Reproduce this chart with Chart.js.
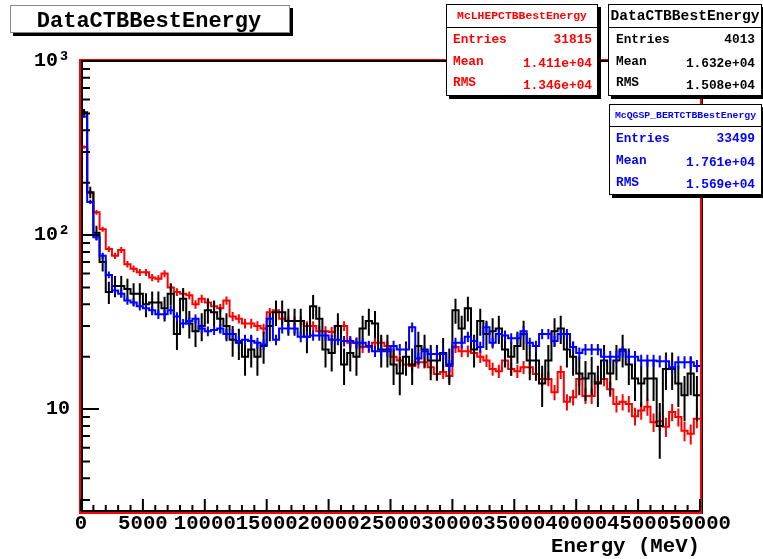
<!DOCTYPE html>
<html>
<head>
<meta charset="utf-8">
<script src="https://cdn.jsdelivr.net/npm/chart.js@4/dist/chart.umd.min.js"></script>
<style>
  html, body { margin: 0; padding: 0; background: #ffffff; }
  canvas { display: block; }
</style>
</head>
<body>
<canvas id="c" width="763" height="559"></canvas>
<script>
// Histogram binning: 100 bins of 500 MeV from 0 to 50000 MeV
const binWidth = 500;
const energyMin = 0;
const energyMax = 50000;

// Bin contents, data (black)
const dataCounts = [
  508,176,103,70,47,51,51,49,46,46,
  40,41,41,38,46,27,43,31,28,30,
  37,36,33,30,25,24,20,22,20,23,
  30,36,36,32,32,32,26,39,33,22,
  21,30,18,21,20,29,32,31,22,22,
  18,16,20,18,23,22,19,19,21,18,
  37,29,38,22,32,27,28,29,22,20,
  23,27,19,19,14,19,28,29,22,20,
  16,15,16,14,19,16,19,22,18,15,
  14,15,15,8,17,17,14,12,16,12
];

// Bin contents, LHEP simulation normalised to data (red)
const lhepCounts = [
  320,175,135,108,83,76,82,68,64,61,
  61,57,56,60,50,47,46,45,40,43,
  41,39,38,42,34,33,31,31,30,29,
  36,37,33,32,32,32,30,30,28,28,
  27.7,30,30,24,24,22.7,22.7,24,24,23,
  20,19,18,17.7,18.6,18.6,17.4,15.9,16.3,15.5,
  22.7,21.5,21.5,21,20,19,17,16.5,19,17,
  16.5,17.4,17.4,15.9,14.9,14.9,12.5,16.3,11,11.7,
  14.9,11.9,11.9,14.3,14.9,13,10.7,11,10.7,9.1,
  9.8,10.3,8.4,8.5,7.9,9.6,9.0,7.5,7.2,8.8
];

// Bin contents, QGSP_BERT simulation normalised to data (blue)
const qgspCounts = [
  480,155,97,76,59,48,46,42,41,39,
  38,37,35,35,37,34,31,32,33,29,
  28,28.5,29,27,27,24.6,25,24.6,24,23.5,
  33,25,29,29,29,26,26,26.5,26.5,26.5,
  25,25,24.6,24.6,24,24,23,21.5,21.5,21.5,
  23,22,22,29.5,19.5,21.5,20.7,20.7,20.7,17.7,
  24,24,26,24.6,22.7,29.5,24,27,26.5,25.5,
  25.5,28,24,23,27,27,24.6,27,27,22.7,
  21,22,22,22,20,20,20,21.5,20,20,
  19,19,19,18.8,18.8,17.4,18.6,18.6,18.6,17.7
];

// Axis ticks and labels
const xTickValues = [0,5000,10000,15000,20000,25000,30000,35000,40000,45000,50000];
const yTickValues = [10,100,1000];
const yTickLabels = ['10','10\u00B2','10\u00B3'];
const yMin = 2.56;
const yMax = 1000;

// Statistics boxes
const statNames = ['Entries','Mean','RMS'];
const lhepStats = ['31815','1.411e+04','1.346e+04'];
const dataStats = ['4013','1.632e+04','1.508e+04'];
const qgspStats = ['33499','1.761e+04','1.569e+04'];
const lhepEntries = 31815;
const dataEntries = 4013;
const qgspEntries = 33499;

const MONO = '"Liberation Mono", "DejaVu Sans Mono", monospace';
const boldMono = px => `bold ${px}px ${MONO}`;

// Step outline: one point per lower bin edge plus the closing upper edge
function stepPoints(counts) {
  const pts = counts.map((v, i) => ({ x: energyMin + i * binWidth, y: v }));
  pts.push({ x: energyMin + counts.length * binWidth, y: counts[counts.length - 1] });
  return pts;
}

// Poisson errors; simulated histograms are scaled to the data entries
const poissonErrors = counts => counts.map(v => Math.sqrt(v));
const scaledErrors = (counts, entries) => counts.map(v => Math.sqrt(v * dataEntries / entries));

const histStyle = {
  id: 'histStyle',
  afterDatasetDraw(chart, args) {
    const ds = chart.data.datasets[args.index];
    if (!ds.errors) return;
    const { ctx, chartArea: a, scales: { x, y } } = chart;
    ctx.save();
    ctx.beginPath();
    ctx.rect(a.left, a.top, a.right - a.left, a.bottom - a.top);
    ctx.clip();
    ctx.strokeStyle = ds.borderColor;
    ctx.lineWidth = 2;
    ctx.beginPath();
    ds.counts.forEach((v, i) => {
      const px = x.getPixelForValue(energyMin + (i + 0.5) * binWidth);
      const hi = v + ds.errors[i];
      const lo = Math.max(v - ds.errors[i], y.min);
      ctx.moveTo(px, y.getPixelForValue(hi));
      ctx.lineTo(px, y.getPixelForValue(lo));
    });
    ctx.stroke();
    ctx.restore();
  },
  afterDraw(chart) {
    const { ctx, chartArea: a, scales: { x, y } } = chart;
    ctx.save();

    // frame
    ctx.strokeStyle = '#ff0000';
    ctx.lineWidth = 2;
    ctx.strokeRect(a.left - 1, a.top - 1, a.right - a.left + 2, a.bottom - a.top + 2);
    ctx.strokeStyle = '#000000';
    ctx.lineWidth = 1;
    ctx.beginPath();
    ctx.moveTo(a.right + 2.5, a.top); ctx.lineTo(a.right + 2.5, a.bottom + 2);
    ctx.stroke();
    ctx.lineWidth = 2;
    ctx.beginPath();
    ctx.moveTo(a.left + 1, a.top - 1); ctx.lineTo(a.left + 1, a.bottom - 1);
    ctx.lineTo(a.right, a.bottom - 1);
    ctx.moveTo(a.left, a.top); ctx.lineTo(a.right, a.top);
    ctx.stroke();

    // inward ticks, x axis
    ctx.beginPath();
    for (let v = energyMin; v <= energyMax; v += 1000) {
      const px = x.getPixelForValue(v);
      const len = v % 5000 === 0 ? 12 : 6;
      ctx.moveTo(px, a.bottom - 1);
      ctx.lineTo(px, a.bottom - 1 - len);
    }
    // inward ticks, log y axis
    for (let d = 1; d <= 1000; d *= 10) {
      for (let k = 1; k <= 9; k++) {
        const v = k * d;
        if (v < y.min || v > y.max) continue;
        const py = y.getPixelForValue(v);
        const len = k === 1 ? 18 : 9;
        ctx.moveTo(a.left, py);
        ctx.lineTo(a.left + len, py);
      }
    }
    ctx.stroke();

    // title box
    drawBox(ctx, 10, 5, 280, 28, '#888888');
    ctx.fillStyle = '#000000';
    ctx.font = boldMono(22);
    ctx.textAlign = 'center';
    ctx.textBaseline = 'middle';
    ctx.fillText('DataCTBBestEnergy', 149, 21);

    // statistics boxes
    statsBox(ctx, { x: 446, y: 4, w: 152, h: 92, line: 27, title: 'McLHEPCTBBestEnergy', titleSize: 11.4,
      color: '#ff0000', labelX: 453, valueX: 592, stats: lhepStats, rowY: [40, 61.5, 83], valY: [40, 63.5, 86] });
    statsBox(ctx, { x: 608, y: 4, w: 154, h: 92, line: 27, title: 'DataCTBBestEnergy', titleSize: 14.6,
      color: '#000000', labelX: 616, valueX: 755, stats: dataStats, rowY: [40, 61.5, 83], valY: [40, 63.5, 86] });
    statsBox(ctx, { x: 609, y: 104, w: 153, h: 91, line: 126, title: 'McQGSP_BERTCTBBestEnergy', titleSize: 9.8,
      color: '#0000ff', labelX: 616, valueX: 755, stats: qgspStats, rowY: [139, 160.5, 182.5], valY: [139, 162.5, 185] });

    ctx.restore();
  }
};

function drawBox(ctx, bx, by, bw, bh, edge) {
  ctx.fillStyle = '#000000';
  ctx.fillRect(bx + 3, by + bh, bw, 3);
  ctx.fillRect(bx + bw, by + 3, 3, bh);
  ctx.fillStyle = '#ffffff';
  ctx.fillRect(bx, by, bw, bh);
  ctx.strokeStyle = edge;
  ctx.lineWidth = 1;
  ctx.strokeRect(bx + 0.5, by + 0.5, bw - 1, bh - 1);
}

function statsBox(ctx, o) {
  drawBox(ctx, o.x, o.y, o.w, o.h, '#000000');
  ctx.strokeStyle = '#000000';
  ctx.lineWidth = 1;
  ctx.beginPath();
  ctx.moveTo(o.x, o.line + 0.5);
  ctx.lineTo(o.x + o.w, o.line + 0.5);
  ctx.stroke();
  ctx.fillStyle = o.color;
  ctx.textBaseline = 'middle';
  ctx.textAlign = 'center';
  ctx.font = boldMono(o.titleSize);
  ctx.fillText(o.title, o.x + o.w / 2, (o.y + o.line) / 2 + 1);
  ctx.font = boldMono(12.8);
  statNames.forEach((name, i) => {
    ctx.textAlign = 'left';
    ctx.fillText(name, o.labelX, o.rowY[i]);
    ctx.textAlign = 'right';
    ctx.fillText(o.stats[i], o.valueX, o.valY[i]);
  });
}

const lineDataset = (label, counts, color, errors) => ({
  label,
  data: stepPoints(counts),
  counts,
  errors,
  borderColor: color,
  borderWidth: 2,
  pointRadius: 0,
  stepped: true,
  fill: false,
  tension: 0
});

new Chart(document.getElementById('c'), {
  type: 'line',
  data: {
    datasets: [
      lineDataset('McQGSP_BERTCTBBestEnergy', qgspCounts, '#0000ff', scaledErrors(qgspCounts, qgspEntries)),
      lineDataset('DataCTBBestEnergy', dataCounts, '#000000', poissonErrors(dataCounts)),
      lineDataset('McLHEPCTBBestEnergy', lhepCounts, '#ff0000', scaledErrors(lhepCounts, lhepEntries))
    ]
  },
  options: {
    responsive: false,
    animation: false,
    devicePixelRatio: 1,
    layout: { padding: { left: 0, right: 63, top: 61, bottom: 0 } },
    plugins: { legend: { display: false }, tooltip: { enabled: false } },
    scales: {
      x: {
        type: 'linear',
        min: energyMin,
        max: energyMax,
        afterBuildTicks: s => { s.ticks = xTickValues.map(v => ({ value: v })); },
        afterFit: s => { s.height = 47; },
        grid: { display: false, drawTicks: false },
        border: { display: false },
        ticks: {
          autoSkip: false,
          maxRotation: 0,
          padding: -1,
          color: '#000000',
          font: { family: MONO, size: 20.7, weight: 'bold' },
          callback: v => String(v)
        },
        title: {
          display: true,
          text: 'Energy (MeV)',
          align: 'end',
          color: '#000000',
          padding: { top: 0, bottom: 0 },
          font: { family: MONO, size: 20.7, weight: 'bold' }
        }
      },
      y: {
        type: 'logarithmic',
        min: yMin,
        max: yMax,
        afterBuildTicks: s => { s.ticks = yTickValues.map(v => ({ value: v })); },
        afterFit: s => { s.width = 81; },
        grid: { display: false, drawTicks: false },
        border: { display: false },
        ticks: {
          padding: 11,
          color: '#000000',
          font: { family: MONO, size: 20, weight: 'bold' },
          callback: (v, i) => yTickLabels[i]
        }
      }
    }
  },
  plugins: [histStyle]
});
</script>
</body>
</html>
